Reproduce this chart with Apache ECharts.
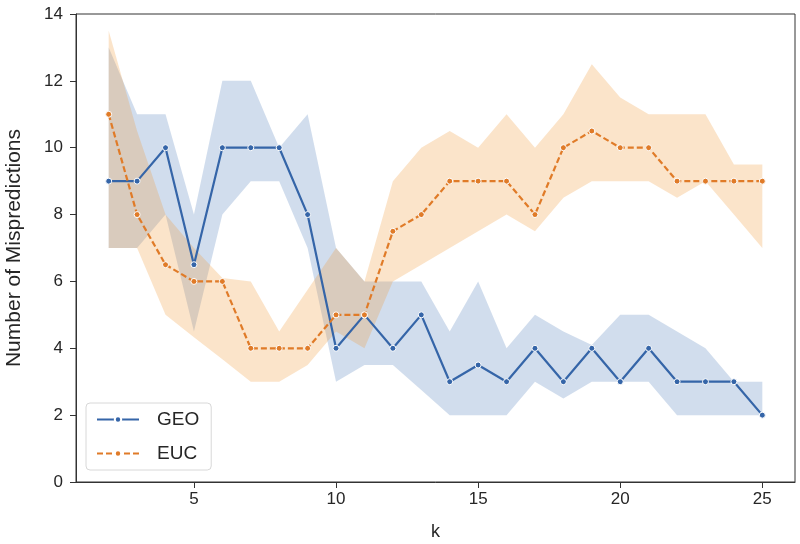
<!DOCTYPE html>
<html>
<head>
<meta charset="utf-8">
<script src="https://cdn.jsdelivr.net/npm/echarts@6/dist/echarts.min.js"></script>
<style>
html,body{margin:0;padding:0;background:#fff;}
#chart{width:800px;height:544px;}
</style>
</head>
<body>
<div id="chart"></div>
<script>
// k values
const ks = [2,3,4,5,6,7,8,9,10,11,12,13,14,15,16,17,18,19,20,21,22,23,24,25];
// GEO
const geoMean  = [9,9,10,6.5,10,10,10,8,4,5,4,5,3,3.5,3,4,3,4,3,4,3,3,3,2];
const geoLower = [7,7,8,4.5,8,9,9,7,3,3.5,3.5,2.75,2,2,2,3,2.5,3,3,3,2,2,2,2];
const geoUpper = [13,11,11,8,12,12,10,11,7,6,6,6,4.5,6,4,5,4.5,4.1,5,5,4.5,4,3,3];
// EUC
const eucMean  = [11,8,6.5,6,6,4,4,4,5,5,7.5,8,9,9,9,8,10,10.5,10,10,9,9,9,9];
const eucLower = [7,7,5,4.33,3.67,3,3,3.5,4.5,4,6,6.5,7,7.5,8,7.5,8.5,9,9,9,8.5,9,8,7];
const eucUpper = [13.5,10.5,8,7,6.1,6,4.5,5.75,7,6,9,10,10.5,10,11,10,11,12.5,11.5,11,11,11,9.5,9.5];
// ticks
const xTicks = [5,10,15,20,25];
const seriesNames = ['GEO','EUC'];

const blue = '#3565a8';
const orange = '#e07b28';
const blueFill = 'rgba(70,120,185,0.25)';
const orangeFill = 'rgba(242,155,60,0.27)';

function band(name, lo, hi, fill, z) {
  return {
    type: 'custom', name: name, silent: true, z: z,
    data: ks.map((k, i) => [k, lo[i], hi[i]]),
    encode: {x: 0, y: [1, 2]},
    clip: true,
    renderItem: function (params, api) {
      if (params.dataIndex !== 0) return null;
      const pts = [];
      for (let i = 0; i < ks.length; i++) pts.push(api.coord([ks[i], hi[i]]));
      for (let i = ks.length - 1; i >= 0; i--) pts.push(api.coord([ks[i], lo[i]]));
      return {type: 'polygon', shape: {points: pts}, style: {fill: fill}};
    }
  };
}

function meanLine(name, vals, color, type, z) {
  return {
    name: name, type: 'line', z: z,
    data: ks.map((k, i) => [k, vals[i]]),
    symbol: 'circle', symbolSize: 6, showSymbol: true,
    lineStyle: {color: color, width: 2.2, type: type},
    itemStyle: {color: color, borderColor: '#ffffff', borderWidth: 1},
    emphasis: {disabled: true}
  };
}

const chart = echarts.init(document.getElementById('chart'), null, {renderer: 'canvas'});
const font = 'Liberation Sans, Arial, sans-serif';
chart.setOption({
  animation: false,
  backgroundColor: '#ffffff',
  textStyle: {fontFamily: font},
  grid: {left: 76, right: 5, top: 14, bottom: 62, containLabel: false, outerBoundsMode: 'none',
         show: true, borderColor: '#333', borderWidth: 1, backgroundColor: 'transparent'},
  legend: {
    data: seriesNames,
    orient: 'vertical', left: 86, top: 403,
    itemWidth: 42, itemHeight: 8, itemGap: 15,
    padding: [7, 12, 7, 10],
    borderColor: '#d8d8d8', borderWidth: 1, borderRadius: 4,
    backgroundColor: 'rgba(255,255,255,0.8)',
    textStyle: {fontFamily: font, fontSize: 19, color: '#262626', padding: [0, 0, 0, 13]}
  },
  xAxis: {
    type: 'value', min: 0.85, max: 26.15,
    name: 'k', nameLocation: 'middle', nameGap: 41,
    nameTextStyle: {fontFamily: font, fontSize: 18, color: '#262626'},
    axisLine: {show: true, lineStyle: {color: '#333', width: 1}},
    axisTick: {show: true, customValues: xTicks, length: 6, inside: false, lineStyle: {color: '#333'}},
    axisLabel: {customValues: xTicks, fontFamily: font, fontSize: 17, color: '#262626', margin: 9},
    splitLine: {show: false}
  },
  yAxis: {
    type: 'value', min: 0, max: 14, interval: 2,
    name: 'Number of Mispredictions', nameLocation: 'middle', nameGap: 51,
    nameTextStyle: {fontFamily: font, fontSize: 21, color: '#262626'},
    axisLine: {show: true, lineStyle: {color: '#333', width: 1}},
    axisTick: {show: true, length: 6, lineStyle: {color: '#333'}},
    axisLabel: {fontFamily: font, fontSize: 17, color: '#262626', margin: 13},
    splitLine: {show: false}
  },
  series: [
    band('GEO band', geoLower, geoUpper, blueFill, 1),
    band('EUC band', eucLower, eucUpper, orangeFill, 1),
    meanLine('GEO', geoMean, blue, 'solid', 3),
    meanLine('EUC', eucMean, orange, [6, 3], 3)
  ]
});
</script>
</body>
</html>
